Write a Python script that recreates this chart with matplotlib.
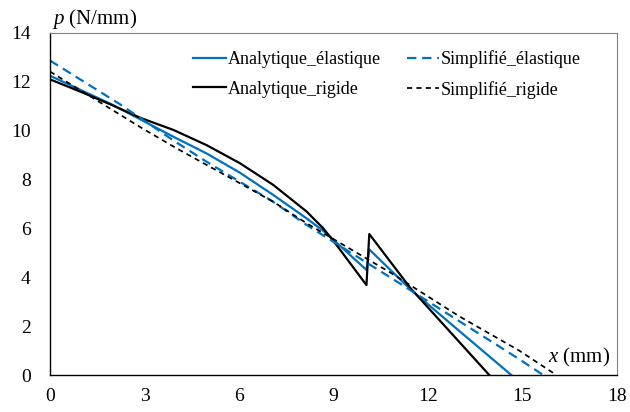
import matplotlib
matplotlib.use("Agg")
import matplotlib.pyplot as plt

x_ana_el = [0, 1, 2, 2.86, 3.92, 4.97, 6.03, 7.09, 8.15, 8.78, 9.2, 10.05, 10.14, 11.45, 13, 14.65]
p_ana_el = [12.25, 11.65, 11.05, 10.47, 9.75, 9.07, 8.28, 7.37, 6.41, 5.8, 5.3, 4.3, 5.14, 3.5, 1.8, 0]

x_ana_rig = [0, 1, 2, 2.86, 3.92, 4.97, 6.03, 7.09, 8.15, 8.68, 9.1, 10.05, 10.14, 11.45, 13.95]
p_ana_rig = [12.1, 11.58, 11.03, 10.53, 10.03, 9.41, 8.67, 7.78, 6.69, 6.0, 5.32, 3.68, 5.77, 3.55, 0]

x_simp_el = [0, 2.2, 3.92, 4.97, 6.03, 7.09, 8.15, 10.8, 13, 14.9, 15.66]
p_simp_el = [12.87, 11.1, 9.6, 8.73, 7.91, 7.09, 6.14, 4.0, 2.2, 0.65, 0]

x_simp_rig = [0, 2.86, 3.92, 4.97, 6.03, 7.09, 8.15, 10.8, 13, 14.9, 16.08]
p_simp_rig = [12.42, 10.15, 9.35, 8.6, 7.85, 7.09, 6.21, 4.2, 2.4, 1.0, 0]

plt.rcParams["font.family"] = ["Liberation Serif", "DejaVu Serif"]
plt.rcParams["mathtext.fontset"] = "custom"
plt.rcParams["mathtext.it"] = "Liberation Serif:italic"
plt.rcParams["mathtext.rm"] = "Liberation Serif"

fig = plt.figure(figsize=(6.3, 4.12), dpi=100)
ax = fig.add_axes([0.0794, 0.0898, 0.8996, 0.8302])

bleu = "#0070C0"
l1, = ax.plot(x_ana_el, p_ana_el, color=bleu, lw=1.6)
l2, = ax.plot(x_ana_rig, p_ana_rig, color="black", lw=1.6)
l3, = ax.plot(x_simp_el, p_simp_el, color=bleu, lw=1.6, dashes=(4.2, 2.6))
l4, = ax.plot(x_simp_rig, p_simp_rig, color="black", lw=1.25, dashes=(3, 2.4))

ax.set_xlim(0, 18)
ax.set_ylim(0, 14)
ax.set_xticks(range(0, 19, 3))
ax.set_yticks(range(0, 15, 2))
ax.tick_params(length=0, labelsize=14)
ax.tick_params(axis="y", pad=14)
ax.tick_params(axis="x", pad=9)
for s in ["top", "right"]:
    ax.spines[s].set_color("#808080")
    ax.spines[s].set_linewidth(0.8)
for s in ["left", "bottom"]:
    ax.spines[s].set_linewidth(1.0)

ax.legend([l1, l2, l3, l4],
          ["Analytique_élastique", "Analytique_rigide", "Simplifié_élastique", "Simplifié_rigide"],
          ncol=2, frameon=False, fontsize=13, loc="upper left",
          bbox_to_anchor=(0.224, 0.997), handlelength=1.8, handletextpad=0.1,
          columnspacing=1.45, labelspacing=0.7, borderpad=0.4)

fig.text(0.083, 0.955, r"$p$ (N/mm)", fontsize=15, va="center")
ax.text(15.8, 0.7, r"$x$ (mm)", fontsize=15, va="center")

fig.savefig("out.png", dpi=100)
